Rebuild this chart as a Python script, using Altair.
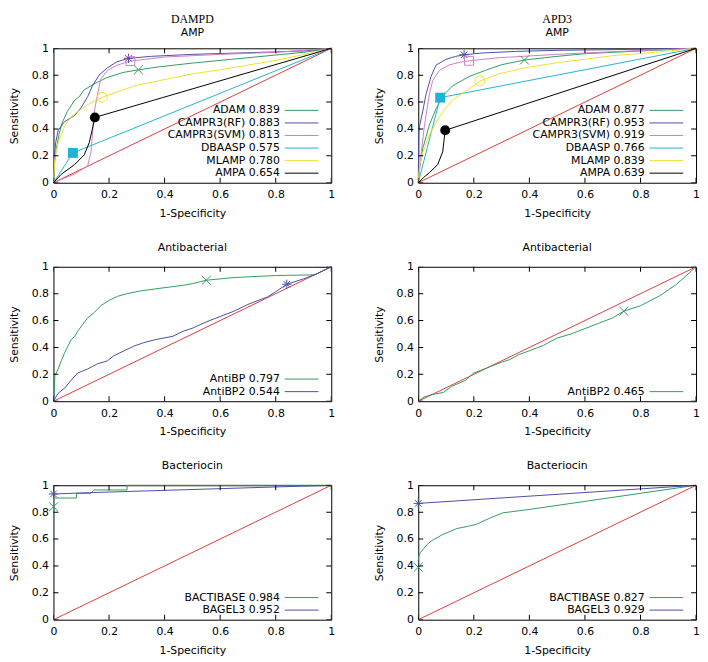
import altair as alt
import pandas as pd

# ------------------------------------------------------------------ data
TICKS = [0, 0.2, 0.4, 0.6, 0.8, 1]
DIAG_X = [0, 1]
DIAG_Y = [0, 1]

# DAMPD - AMP
dampd_amp_names = ["ADAM", "CAMPR3(RF)", "CAMPR3(SVM)", "DBAASP", "MLAMP", "AMPA"]
dampd_amp_auc = ["0.839", "0.883", "0.813", "0.575", "0.780", "0.654"]
dampd_adam_x = [0, 0.004, 0.01, 0.02, 0.03, 0.05, 0.075, 0.095, 0.11, 0.146, 0.19, 0.25, 0.306, 0.38, 0.5, 0.65, 0.8, 0.9, 1]
dampd_adam_y = [0, 0.15, 0.25, 0.36, 0.44, 0.53, 0.61, 0.645, 0.69, 0.735, 0.78, 0.82, 0.84, 0.862, 0.89, 0.92, 0.95, 0.97, 1]
dampd_rf_x = [0, 0.003, 0.008, 0.017, 0.04, 0.076, 0.1, 0.123, 0.14, 0.164, 0.194, 0.229, 0.27, 0.35, 0.5, 0.7, 0.9, 1]
dampd_rf_y = [0, 0.2, 0.3, 0.39, 0.455, 0.5, 0.56, 0.64, 0.72, 0.8, 0.855, 0.9, 0.925, 0.94, 0.955, 0.967, 0.98, 1]
dampd_svm_x = [0, 0.076, 0.123, 0.135, 0.14, 0.146, 0.158, 0.17, 0.194, 0.23, 0.277, 0.4, 0.6, 0.8, 1]
dampd_svm_y = [0, 0.065, 0.125, 0.23, 0.35, 0.52, 0.65, 0.77, 0.835, 0.875, 0.905, 0.935, 0.955, 0.97, 1]
dampd_dbaasp_x = [0, 0.07, 1]
dampd_dbaasp_y = [0, 0.222, 1]
dampd_mlamp_x = [0, 0.005, 0.017, 0.04, 0.064, 0.087, 0.123, 0.146, 0.176, 0.229, 0.3, 0.407, 0.5, 0.6, 0.8, 0.95, 1]
dampd_mlamp_y = [0, 0.18, 0.3, 0.42, 0.49, 0.53, 0.58, 0.607, 0.636, 0.676, 0.725, 0.77, 0.81, 0.84, 0.91, 0.975, 1]
dampd_ampa_x = [0, 0.028, 0.076, 0.111, 0.129, 0.14, 0.149, 1]
dampd_ampa_y = [0, 0.063, 0.135, 0.208, 0.3, 0.4, 0.486, 1]
dampd_amp_mark_x = [0.306, 0.27, 0.277, 0.07, 0.176, 0.149]
dampd_amp_mark_y = [0.84, 0.925, 0.905, 0.222, 0.636, 0.486]

# APD3 - AMP
apd3_amp_names = ["ADAM", "CAMPR3(RF)", "CAMPR3(SVM)", "DBAASP", "MLAMP", "AMPA"]
apd3_amp_auc = ["0.877", "0.953", "0.919", "0.766", "0.839", "0.639"]
apd3_adam_x = [0, 0.005, 0.017, 0.04, 0.064, 0.088, 0.123, 0.183, 0.242, 0.3, 0.382, 0.5, 0.6, 0.8, 1]
apd3_adam_y = [0, 0.11, 0.26, 0.43, 0.55, 0.645, 0.72, 0.79, 0.836, 0.878, 0.913, 0.94, 0.96, 0.98, 1]
apd3_rf_x = [0, 0.002, 0.005, 0.017, 0.028, 0.046, 0.064, 0.1, 0.135, 0.165, 0.23, 0.35, 0.5, 0.7, 1]
apd3_rf_y = [0, 0.38, 0.425, 0.54, 0.66, 0.79, 0.875, 0.918, 0.94, 0.952, 0.965, 0.977, 0.985, 0.99, 1]
apd3_svm_x = [0, 0.005, 0.011, 0.022, 0.04, 0.052, 0.076, 0.11, 0.147, 0.183, 0.29, 0.5, 0.7, 1]
apd3_svm_y = [0, 0.1, 0.23, 0.42, 0.66, 0.76, 0.835, 0.875, 0.895, 0.907, 0.93, 0.955, 0.975, 1]
apd3_dbaasp_x = [0, 0.079, 1]
apd3_dbaasp_y = [0, 0.633, 1]
apd3_mlamp_x = [0, 0.005, 0.017, 0.04, 0.064, 0.094, 0.123, 0.171, 0.222, 0.29, 0.384, 0.5, 0.7, 0.85, 1]
apd3_mlamp_y = [0, 0.135, 0.23, 0.355, 0.45, 0.545, 0.615, 0.68, 0.757, 0.81, 0.855, 0.893, 0.945, 0.97, 1]
apd3_ampa_x = [0, 0.02, 0.04, 0.07, 0.088, 0.097, 1]
apd3_ampa_y = [0, 0.04, 0.075, 0.135, 0.23, 0.39, 1]
apd3_amp_mark_x = [0.382, 0.165, 0.183, 0.079, 0.222, 0.097]
apd3_amp_mark_y = [0.913, 0.952, 0.907, 0.633, 0.757, 0.39]

# DAMPD - Antibacterial
dampd_ab_names = ["AntiBP", "AntiBP2"]
dampd_ab_auc = ["0.797", "0.544"]
dampd_antibp_x = [0, 0.003, 0.005, 0.017, 0.028, 0.04, 0.052, 0.064, 0.076, 0.087, 0.105, 0.123, 0.147, 0.17, 0.2, 0.23, 0.265, 0.312, 0.383, 0.466, 0.5, 0.55, 0.65, 0.8, 0.94, 1]
dampd_antibp_y = [0, 0.1, 0.19, 0.24, 0.3, 0.36, 0.41, 0.46, 0.48, 0.52, 0.57, 0.62, 0.66, 0.71, 0.75, 0.78, 0.8, 0.82, 0.84, 0.862, 0.874, 0.9, 0.92, 0.935, 0.94, 1]
dampd_antibp2_x = [0, 0.017, 0.04, 0.064, 0.087, 0.123, 0.158, 0.194, 0.217, 0.253, 0.29, 0.324, 0.371, 0.43, 0.466, 0.5, 0.55, 0.6, 0.65, 0.7, 0.75, 0.77, 0.8, 0.84, 0.9, 0.95, 1]
dampd_antibp2_y = [0, 0.06, 0.097, 0.157, 0.21, 0.24, 0.278, 0.3, 0.338, 0.374, 0.41, 0.435, 0.46, 0.483, 0.52, 0.543, 0.59, 0.63, 0.67, 0.72, 0.76, 0.775, 0.815, 0.87, 0.91, 0.95, 1]
dampd_ab_mark_x = [0.55, 0.84]
dampd_ab_mark_y = [0.9, 0.87]

# APD3 - Antibacterial
apd3_ab_names = ["AntiBP2"]
apd3_ab_auc = ["0.465"]
apd3_antibp2_x = [0, 0.02, 0.05, 0.09, 0.12, 0.17, 0.2, 0.25, 0.3, 0.33, 0.36, 0.4, 0.45, 0.5, 0.55, 0.6, 0.65, 0.7, 0.74, 0.8, 0.87, 0.93, 1]
apd3_antibp2_y = [0, 0.03, 0.05, 0.065, 0.11, 0.155, 0.21, 0.25, 0.29, 0.31, 0.345, 0.375, 0.415, 0.47, 0.5, 0.54, 0.58, 0.62, 0.67, 0.71, 0.785, 0.87, 1]
apd3_ab_mark_x = [0.74]
apd3_ab_mark_y = [0.67]

# DAMPD - Bacteriocin
dampd_bac_names = ["BACTIBASE", "BAGEL3"]
dampd_bac_auc = ["0.984", "0.952"]
dampd_bactibase_x = [0, 0.083, 0.083, 0.135, 0.145, 0.265, 0.265, 1]
dampd_bactibase_y = [0.905, 0.905, 0.94, 0.94, 0.965, 0.965, 1, 1]
dampd_bagel3_x = [0, 0.13, 1]
dampd_bagel3_y = [0.935, 0.945, 1]
dampd_bac_mark_x = [0, 0]
dampd_bac_mark_y = [0.84, 0.935]

# APD3 - Bacteriocin
apd3_bac_names = ["BACTIBASE", "BAGEL3"]
apd3_bac_auc = ["0.827", "0.929"]
apd3_bactibase_x = [0, 0.003, 0.008, 0.02, 0.032, 0.05, 0.068, 0.085, 0.103, 0.139, 0.18, 0.21, 0.257, 0.305, 0.4, 0.6, 0.8, 1]
apd3_bactibase_y = [0.44, 0.48, 0.5, 0.53, 0.56, 0.59, 0.61, 0.63, 0.646, 0.678, 0.695, 0.71, 0.755, 0.795, 0.82, 0.88, 0.94, 1]
apd3_bagel3_x = [0, 1]
apd3_bagel3_y = [0.865, 1]
apd3_bac_mark_x = [0, 0]
apd3_bac_mark_y = [0.39, 0.865]

# ------------------------------------------------------------------ style
FONT = "DejaVu Sans"
SERIF = "Liberation Serif"
W, H = 281, 136
PALETTE = ["#2f9e5f", "#4a50a8", "#d27cc6", "#22b2d4", "#efe030", "#000000"]
DIAG_COLOR = "#e03c3c"
SHAPES = [
    "M-1,-1L1,1M-1,1L1,-1",
    "M-1,0L1,0M0,-1L0,1M-0.7,-0.7L0.7,0.7M-0.7,0.7L0.7,-0.7",
    "square", "square", "circle", "circle",
]
FILLED = [False, False, False, True, False, True]
MSIZE = [81, 90, 81, 100, 100, 100]
LEGEND_LINE = "M-3.1,0L3.1,0"
ROW_STEP = 12.7

xscale = alt.Scale(domain=[0, 1], nice=False, zero=False)
yscale = alt.Scale(domain=[0, 1], nice=False, zero=False)
label_expr = "datum.value == 0 ? '0' : datum.value == 1 ? '1' : format(datum.value, '.1f')"
x_axis = alt.Axis(values=TICKS, labelExpr=label_expr, title="1-Specificity", grid=False,
                  ticks=False, tickSize=0, domain=False, labelFlush=False, labelOverlap=False,
                  labelPadding=6, titlePadding=8)
y_axis = alt.Axis(values=TICKS, labelExpr=label_expr, title="Sensitivity", grid=False,
                  ticks=False, tickSize=0, domain=False, labelFlush=False, labelOverlap=False,
                  labelPadding=5, titlePadding=12)


def panel(title, names, aucs, xs_list, ys_list, mx, my):
    labels = [f"{n} {a}" for n, a in zip(names, aucs)]
    n = len(labels)
    rows = []
    for lab, xs, ys in zip(labels, xs_list, ys_list):
        for i, (x, y) in enumerate(zip(xs, ys)):
            rows.append({"label": lab, "i": i, "x": x, "y": y})
    curves = pd.DataFrame(rows)
    marks = pd.DataFrame({"mlabel": labels, "k": list(range(n)), "x": mx, "y": my})
    diag = pd.DataFrame({"x": DIAG_X, "y": DIAG_Y})
    ticks = pd.DataFrame({"x": TICKS, "y": TICKS})

    cscale = alt.Scale(domain=labels, range=PALETTE[:n])

    X = alt.X("x:Q", scale=xscale, axis=x_axis)
    Y = alt.Y("y:Q", scale=yscale, axis=y_axis)

    diag_l = alt.Chart(diag).mark_line(color=DIAG_COLOR, strokeWidth=1).encode(x=X, y=Y)
    legend = alt.Legend(
        orient="none", legendX=W - 36, legendY=H - 3 - n * ROW_STEP,
        title=None, symbolType=LEGEND_LINE, symbolSize=121, symbolStrokeWidth=1,
        labelAlign="right", labelOffset={"expr": "-28"}, labelFont=FONT, labelFontSize=11,
        labelColor="black", rowPadding=1.7, padding=0, labelLimit=0, direction="vertical",
    )
    line_l = alt.Chart(curves).mark_line(strokeWidth=1).encode(
        x=X, y=Y, color=alt.Color("label:N", scale=cscale, legend=legend), order="i:Q"
    )
    layers = [diag_l, line_l]
    for k in range(n):
        layers.append(
            alt.Chart(marks[marks["k"] == k])
            .mark_point(shape=SHAPES[k], filled=FILLED[k], size=MSIZE[k], strokeWidth=1, opacity=1)
            .encode(x=X, y=Y, color=alt.Color("mlabel:N", scale=cscale, legend=None))
        )
    for v in (0, 1):
        layers.append(alt.Chart(ticks).mark_tick(orient="vertical", size=10, thickness=1, color="black",
                                                 clip=True, opacity=1).encode(
            x=X, y=alt.YDatum(v, scale=yscale, axis=y_axis)))
        layers.append(alt.Chart(ticks).mark_tick(orient="horizontal", size=10, thickness=1, color="black",
                                                 clip=True, opacity=1).encode(
            y=Y, x=alt.XDatum(v, scale=xscale, axis=x_axis)))
    return alt.layer(*layers).properties(width=W, height=H, title=title)


def ttl(text, sub=None):
    if sub is None:
        return alt.TitleParams(text=text, font=FONT, fontSize=11, fontWeight="normal",
                               color="black", offset=8, anchor="middle")
    return alt.TitleParams(text=text, subtitle=sub, font=SERIF, fontSize=12, fontWeight="normal",
                           color="black", subtitleFont=FONT, subtitleFontSize=11,
                           subtitleColor="black", subtitlePadding=2, offset=3, anchor="middle")


p1 = panel(ttl("DAMPD", "AMP"), dampd_amp_names, dampd_amp_auc,
           [dampd_adam_x, dampd_rf_x, dampd_svm_x, dampd_dbaasp_x, dampd_mlamp_x, dampd_ampa_x],
           [dampd_adam_y, dampd_rf_y, dampd_svm_y, dampd_dbaasp_y, dampd_mlamp_y, dampd_ampa_y],
           dampd_amp_mark_x, dampd_amp_mark_y)
p2 = panel(ttl("APD3", "AMP"), apd3_amp_names, apd3_amp_auc,
           [apd3_adam_x, apd3_rf_x, apd3_svm_x, apd3_dbaasp_x, apd3_mlamp_x, apd3_ampa_x],
           [apd3_adam_y, apd3_rf_y, apd3_svm_y, apd3_dbaasp_y, apd3_mlamp_y, apd3_ampa_y],
           apd3_amp_mark_x, apd3_amp_mark_y)
p3 = panel(ttl("Antibacterial"), dampd_ab_names, dampd_ab_auc,
           [dampd_antibp_x, dampd_antibp2_x], [dampd_antibp_y, dampd_antibp2_y],
           dampd_ab_mark_x, dampd_ab_mark_y)
p4 = panel(ttl("Antibacterial"), apd3_ab_names, apd3_ab_auc,
           [apd3_antibp2_x], [apd3_antibp2_y], apd3_ab_mark_x, apd3_ab_mark_y)
p5 = panel(ttl("Bacteriocin"), dampd_bac_names, dampd_bac_auc,
           [dampd_bactibase_x, dampd_bagel3_x], [dampd_bactibase_y, dampd_bagel3_y],
           dampd_bac_mark_x, dampd_bac_mark_y)
p6 = panel(ttl("Bacteriocin"), apd3_bac_names, apd3_bac_auc,
           [apd3_bactibase_x, apd3_bagel3_x], [apd3_bactibase_y, apd3_bagel3_y],
           apd3_bac_mark_x, apd3_bac_mark_y)

chart = (
    alt.concat(p1, p2, p3, p4, p5, p6, columns=2, spacing={"row": 85, "column": 88}, bounds="flush")
    .resolve_scale(color="independent")
    .properties(padding={"left": 0, "top": 0, "right": 0, "bottom": 0}, background="white")
    .configure_view(stroke="black", strokeWidth=1)
    .configure_axis(labelFont=FONT, labelFontSize=11, labelColor="black",
                    titleFont=FONT, titleFontSize=11, titleColor="black", titleFontWeight="normal")
)

chart.save("out.html", embed_options={"renderer": "svg", "actions": False})
